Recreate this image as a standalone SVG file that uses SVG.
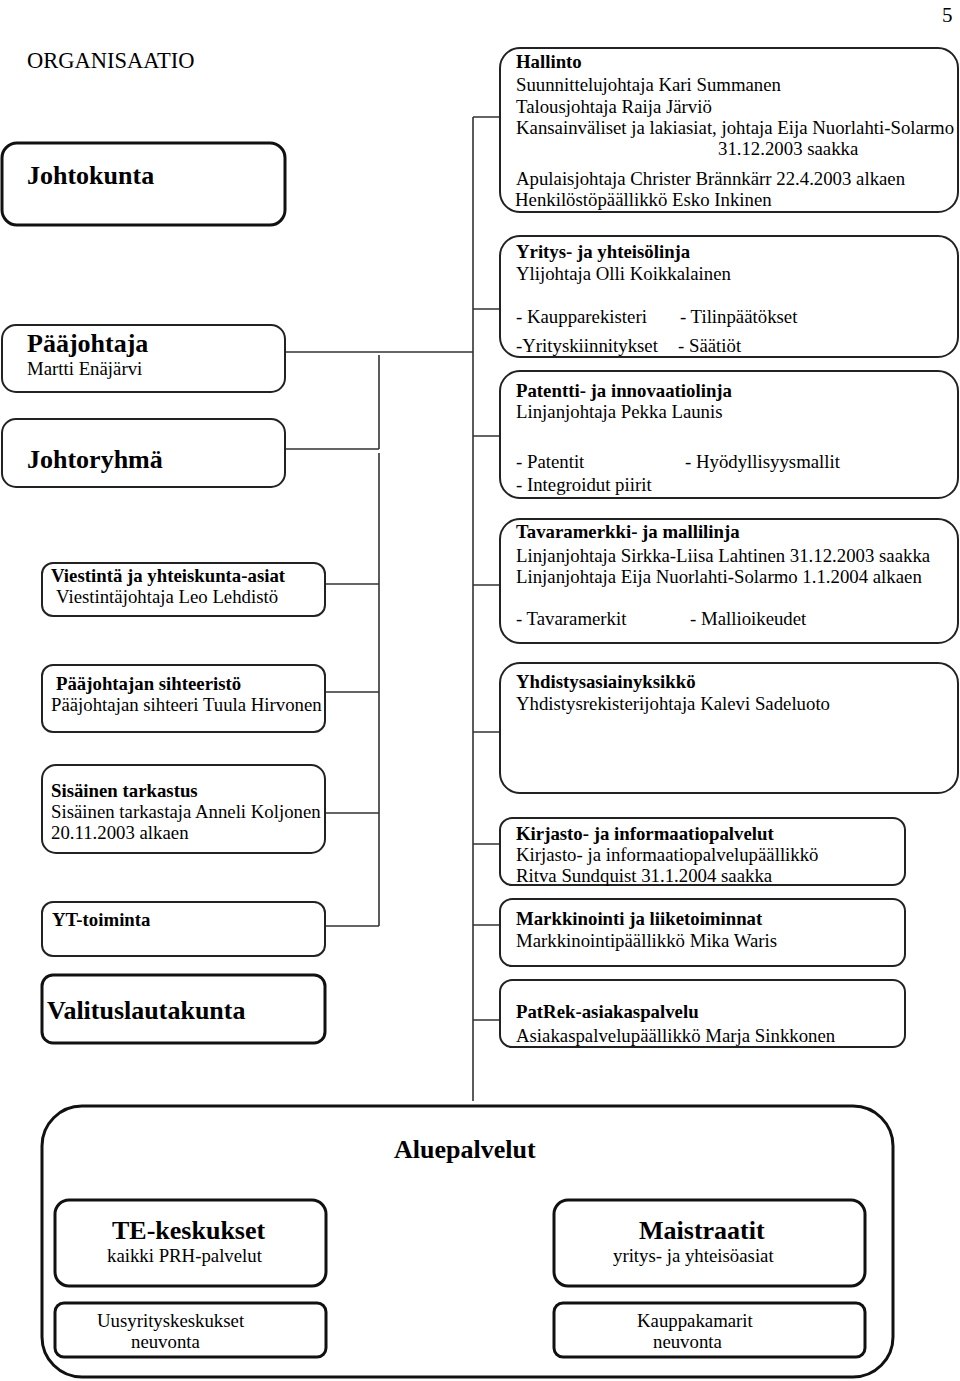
<svg xmlns="http://www.w3.org/2000/svg" width="960" height="1381" viewBox="0 0 960 1381">
<style>
text{font-family:"Liberation Serif","Times New Roman",serif;font-size:18.8px;fill:#000}
.b{font-weight:bold}
.big{font-weight:bold;font-size:26px}
.box{fill:#fff;stroke:#222;stroke-width:2}
.thick{fill:#fff;stroke:#111;stroke-width:3}
.ln{fill:none;stroke:#333;stroke-width:1.6}
</style>
<rect width="960" height="1381" fill="#fff"/>
<text x="942" y="22" style="font-size:21px">5</text>
<text x="27" y="68" style="font-size:22.5px">ORGANISAATIO</text>

<g id="connectors">
<path class="ln" d="M473,117 V1101 M473,117 H500 M473,309 H500 M473,436 H500 M473,585 H500 M473,732 H500 M473,844 H500 M473,925 H500 M473,1020 H500"/>
<path class="ln" d="M285,352 H473 M379,355 V449 M285,449 H379 M379,453 V926 M325,584 H379 M325,692 H379 M325,813 H379 M325,926 H379"/>
</g>

<g id="johtokunta">
<rect class="thick" x="2" y="143" width="283" height="82" rx="15"/>
<text class="big" x="27" y="184">Johtokunta</text>
</g>

<g id="paajohtaja">
<rect class="box" x="2" y="325" width="283" height="67" rx="14"/>
<text class="big" x="27" y="352">Pääjohtaja</text>
<text x="27" y="375">Martti Enäjärvi</text>
</g>

<g id="johtoryhma">
<rect class="box" x="2" y="419" width="283" height="68" rx="14"/>
<text class="big" x="27" y="468">Johtoryhmä</text>
</g>

<g id="viestinta">
<rect class="box" x="42" y="563" width="283" height="53" rx="11"/>
<text class="b" x="51" y="582">Viestintä ja yhteiskunta-asiat</text>
<text x="56" y="603">Viestintäjohtaja Leo Lehdistö</text>
</g>

<g id="sihteeristo">
<rect class="box" x="42" y="665" width="283" height="67" rx="11"/>
<text class="b" x="56" y="690">Pääjohtajan sihteeristö</text>
<text x="51" y="711">Pääjohtajan sihteeri Tuula Hirvonen</text>
</g>

<g id="sisainen">
<rect class="box" x="42" y="765" width="283" height="88" rx="14"/>
<text class="b" x="51" y="797">Sisäinen tarkastus</text>
<text x="51" y="818">Sisäinen tarkastaja Anneli Koljonen</text>
<text x="51" y="839">20.11.2003 alkaen</text>
</g>

<g id="yt">
<rect class="box" x="42" y="902" width="283" height="54" rx="11"/>
<text class="b" x="52" y="926">YT-toiminta</text>
</g>

<g id="valitus">
<rect class="thick" x="42" y="975" width="283" height="68" rx="11"/>
<text class="big" x="47" y="1019">Valituslautakunta</text>
</g>

<g id="hallinto">
<rect class="box" x="500" y="48" width="458" height="164" rx="20"/>
<text class="b" x="516" y="68">Hallinto</text>
<text x="516" y="91">Suunnittelujohtaja Kari Summanen</text>
<text x="516" y="113">Talousjohtaja Raija Järviö</text>
<text x="516" y="134">Kansainväliset ja lakiasiat, johtaja Eija Nuorlahti-Solarmo</text>
<text x="718" y="155">31.12.2003 saakka</text>
<text x="516" y="185">Apulaisjohtaja Christer Brännkärr 22.4.2003 alkaen</text>
<text x="515" y="206">Henkilöstöpäällikkö Esko Inkinen</text>
</g>

<g id="yritys">
<rect class="box" x="500" y="236" width="458" height="121" rx="20"/>
<text class="b" x="516" y="258">Yritys- ja yhteisölinja</text>
<text x="516" y="280">Ylijohtaja Olli Koikkalainen</text>
<text x="516" y="323">- Kaupparekisteri</text>
<text x="680" y="323">- Tilinpäätökset</text>
<text x="516" y="352">-Yrityskiinnitykset</text>
<text x="678" y="352">- Säätiöt</text>
</g>

<g id="patentti">
<rect class="box" x="500" y="371" width="458" height="127" rx="20"/>
<text class="b" x="516" y="397">Patentti- ja innovaatiolinja</text>
<text x="516" y="418">Linjanjohtaja Pekka Launis</text>
<text x="516" y="468">- Patentit</text>
<text x="685" y="468">- Hyödyllisyysmallit</text>
<text x="516" y="491">- Integroidut piirit</text>
</g>

<g id="tavaramerkki">
<rect class="box" x="500" y="519" width="458" height="124" rx="20"/>
<text class="b" x="516" y="538">Tavaramerkki- ja mallilinja</text>
<text x="516" y="562">Linjanjohtaja Sirkka-Liisa Lahtinen 31.12.2003 saakka</text>
<text x="516" y="583">Linjanjohtaja Eija Nuorlahti-Solarmo 1.1.2004 alkaen</text>
<text x="516" y="625">- Tavaramerkit</text>
<text x="690" y="625">- Mallioikeudet</text>
</g>

<g id="yhdistys">
<rect class="box" x="500" y="663" width="458" height="130" rx="20"/>
<text class="b" x="516" y="688">Yhdistysasiainyksikkö</text>
<text x="516" y="710">Yhdistysrekisterijohtaja Kalevi Sadeluoto</text>
</g>

<g id="kirjasto">
<rect class="box" x="500" y="818" width="405" height="67" rx="12"/>
<text class="b" x="516" y="840">Kirjasto- ja informaatiopalvelut</text>
<text x="516" y="861">Kirjasto- ja informaatiopalvelupäällikkö</text>
<text x="516" y="882">Ritva Sundquist 31.1.2004 saakka</text>
</g>

<g id="markkinointi">
<rect class="box" x="500" y="899" width="405" height="67" rx="12"/>
<text class="b" x="516" y="925">Markkinointi ja liiketoiminnat</text>
<text x="516" y="947">Markkinointipäällikkö Mika Waris</text>
</g>

<g id="patrek">
<rect class="box" x="500" y="980" width="405" height="67" rx="12"/>
<text class="b" x="516" y="1018">PatRek-asiakaspalvelu</text>
<text x="516" y="1042">Asiakaspalvelupäällikkö Marja Sinkkonen</text>
</g>

<g id="aluepalvelut">
<rect class="thick" x="42" y="1106" width="851" height="271" rx="40"/>
<text class="big" x="394" y="1158">Aluepalvelut</text>
</g>

<g id="te-keskukset">
<rect class="thick" x="55" y="1200" width="271" height="86" rx="14"/>
<text class="big" x="112" y="1239">TE-keskukset</text>
<text x="107" y="1262">kaikki PRH-palvelut</text>
</g>

<g id="uusyrityskeskukset">
<rect class="thick" x="55" y="1303" width="271" height="54" rx="9"/>
<text x="97" y="1327">Uusyrityskeskukset</text>
<text x="131" y="1348">neuvonta</text>
</g>

<g id="maistraatit">
<rect class="thick" x="554" y="1200" width="311" height="86" rx="14"/>
<text class="big" x="639" y="1239">Maistraatit</text>
<text x="613" y="1262">yritys- ja yhteisöasiat</text>
</g>

<g id="kauppakamarit">
<rect class="thick" x="554" y="1303" width="311" height="54" rx="9"/>
<text x="637" y="1327">Kauppakamarit</text>
<text x="653" y="1348">neuvonta</text>
</g>
</svg>
